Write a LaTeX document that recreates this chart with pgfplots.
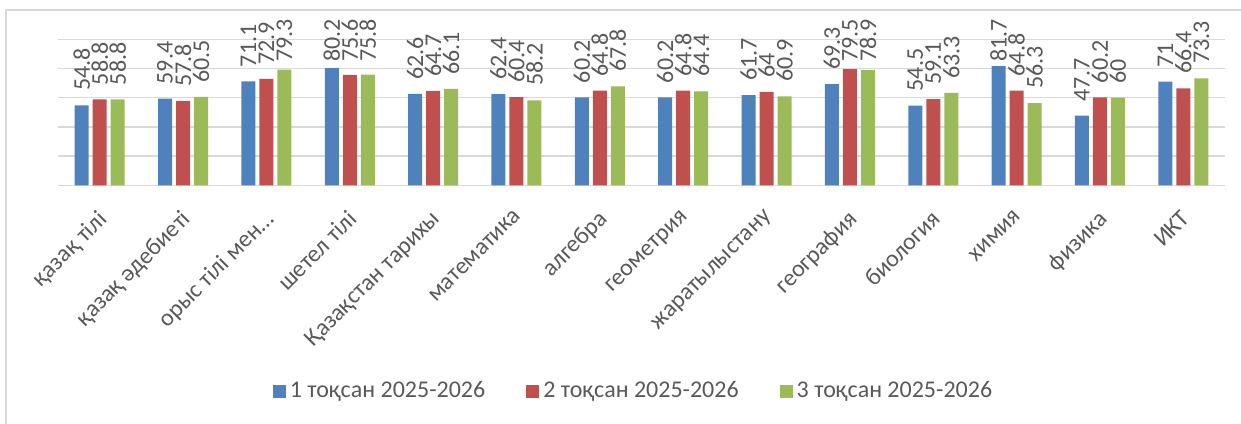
\documentclass[border=0pt]{standalone}
\usepackage{fontspec}
\setmainfont{Carlito}
\usepackage{pgfplots}
\usepackage{pgfplotstable}
\pgfplotsset{compat=1.18}

\definecolor{s1}{HTML}{4F81BD}
\definecolor{s2}{HTML}{C0504D}
\definecolor{s3}{HTML}{9BBB59}
\definecolor{txt}{HTML}{595959}
\definecolor{grd}{HTML}{D9D9D9}

% orta ballar, toqsandar boyynsha
\pgfplotstableread{
x  q1   q2   q3
0  54.8 58.8 58.8
1  59.4 57.8 60.5
2  71.1 72.9 79.3
3  80.2 75.6 75.8
4  62.6 64.7 66.1
5  62.4 60.4 58.2
6  60.2 64.8 67.8
7  60.2 64.8 64.4
8  61.7 64   60.9
9  69.3 79.5 78.9
10 54.5 59.1 63.3
11 81.7 64.8 56.3
12 47.7 60.2 60
13 71   66.4 73.3
}\baldar

\begin{document}
\begin{tikzpicture}[x=1pt,y=1pt]
\useasboundingbox (0,0) rectangle (620.5,211.5);
\draw[grd, line width=0.75pt] (3,-5) -- (3,206.5) -- (630,206.5);
\begin{axis}[
    at={(29pt,118.85pt)}, anchor=south west,
    scale only axis, width=583.5pt, height=73pt,
    clip=false,
    ybar=2pt, bar width=7pt,
    xmin=-0.5, xmax=13.5,
    ymin=0, ymax=100,
    ytick={0,20,...,100}, yticklabels={},
    ymajorgrids=true,
    grid style={grd, line width=0.75pt},
    axis line style={draw=none},
    major tick length=0pt,
    xtick={0,...,13},
    xticklabels={қазақ тілі, қазақ әдебиеті, орыс тілі мен…, шетел тілі,
        Қазақстан тарихы, математика, алгебра, геометрия, жаратылыстану,
        география, биология, химия, физика, ИКТ},
    xticklabel style={yshift=-11.5pt, xshift=-1.5pt, rotate=45, anchor=north east,
        inner sep=0pt, font=\fontsize{12}{14}\selectfont, text=txt},
    /pgf/number format/assume math mode=true,
    nodes near coords,
    visualization depends on={y \as \rawy},
    % labels of tall bars stay inside the chart area, as in the original
    every node near coord/.append style={yshift={-0.73pt*max(0,\rawy-74.9)},
        rotate=90, anchor=west,
        font=\fontsize{12}{14}\selectfont, text=txt, inner xsep=7pt, inner ysep=0pt},
    legend columns=3,
    legend style={at={(0.494,-1.41)}, anchor=center, draw=none, fill=none,
        font=\fontsize{12}{14}\selectfont, text=txt,
        nodes={inner xsep=2pt},
        /tikz/every odd column/.append style={column sep=0pt},
        /tikz/every even column/.append style={column sep=18.5pt}},
    legend image code/.code={\fill[#1, draw=none] (0pt,-3.25pt) rectangle (6.5pt,3.25pt);},
]
\addplot[fill=s1, draw=none] table[x=x, y=q1] {\baldar};
\addlegendentry{1 тоқсан 2025-2026}
\addplot[fill=s2, draw=none] table[x=x, y=q2] {\baldar};
\addlegendentry{2 тоқсан 2025-2026}
\addplot[fill=s3, draw=none] table[x=x, y=q3] {\baldar};
\addlegendentry{3 тоқсан 2025-2026}
\end{axis}
\end{tikzpicture}
\end{document}
